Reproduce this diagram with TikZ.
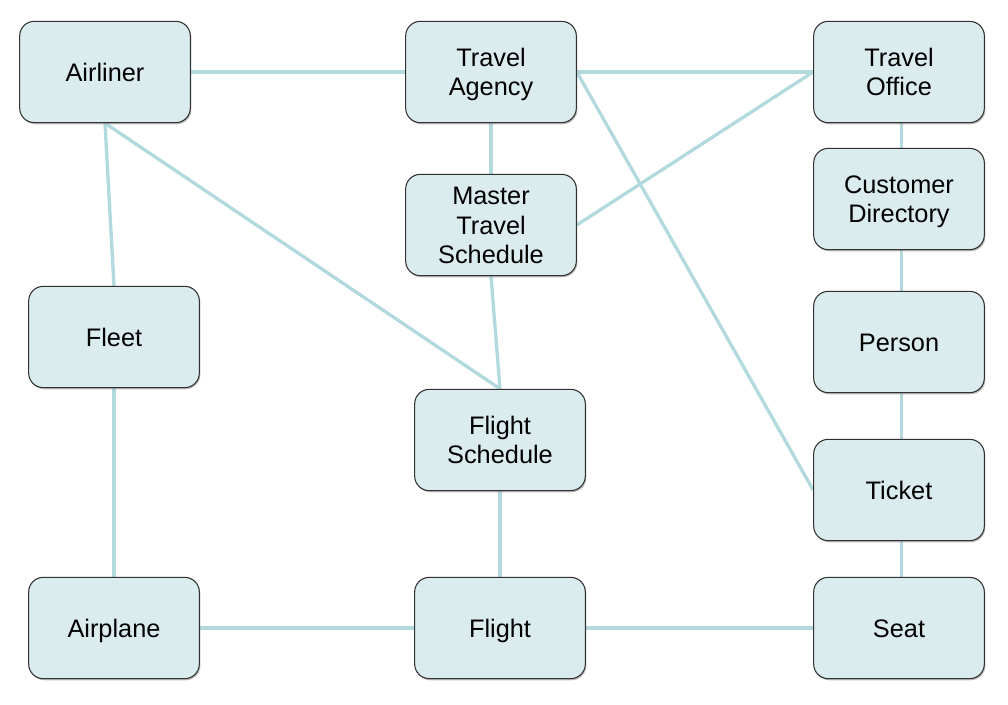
\documentclass[tikz,border=0pt]{standalone}
\usepackage{fontspec}
\setmainfont{Liberation Sans}
\usetikzlibrary{shadows}
\definecolor{boxfill}{RGB}{219,236,238}
\definecolor{linkcol}{RGB}{178,218,222}
\definecolor{boxdraw}{RGB}{50,50,50}
\pgfdeclarelayer{bg}
\pgfsetlayers{bg,main}
\newcommand\boxdepth{\rule[-5pt]{0pt}{5pt}}
\begin{document}
\begin{tikzpicture}[x=0.75pt,y=-0.75pt,
  entity/.style={draw=boxdraw, line width=0.8pt, fill=boxfill, rounded corners=11pt,
    minimum width=128pt, minimum height=76pt, align=center, inner sep=2pt,
    font=\fontsize{19}{22}\selectfont, text height=18.6pt,
    execute at end node=\boxdepth,
    drop shadow={shadow xshift=0.8pt, shadow yshift=-1.2pt, fill=black!45, opacity=0.6}},
  twolines/.style={text height=40.6pt},
  threelines/.style={text height=62.6pt},
  link/.style={draw=linkcol, line width=2.5pt}]
\useasboundingbox (0,0) rectangle (1008,705);
\node[entity] (airliner) at (105,72) {Airliner};
\node[entity,twolines] (agency) at (491,72) {Travel\\Agency};
\node[entity,twolines] (office) at (899,72) {Travel\\Office};
\node[entity,threelines] (master) at (491,225) {Master\\Travel\\Schedule};
\node[entity,twolines] (custdir) at (899,199) {Customer\\Directory};
\node[entity] (fleet) at (114,337) {Fleet};
\node[entity] (person) at (899,342) {Person};
\node[entity,twolines] (fsched) at (500,440) {Flight\\Schedule};
\node[entity] (ticket) at (899,490) {Ticket};
\node[entity] (airplane) at (114,628) {Airplane};
\node[entity] (flight) at (500,628) {Flight};
\node[entity] (seat) at (899,628) {Seat};
\begin{pgfonlayer}{bg}
\draw[link] (airliner.east) -- (agency.west);
\draw[link] (agency.east) -- (office.west);
\draw[link] (agency.south) -- (master.north);
\draw[link] (master.east) -- (office.west);
\draw[link] (agency.east) -- (ticket.west);
\draw[link] (airliner.south) -- (fleet.north);
\draw[link] (airliner.south) -- (fsched.north);
\draw[link] (master.south) -- (fsched.north);
\draw[link] ([xshift=2pt]office.south) -- ([xshift=2pt]custdir.north);
\draw[link] ([xshift=2pt]custdir.south) -- ([xshift=2pt]person.north);
\draw[link] ([xshift=2pt]person.south) -- ([xshift=2pt]ticket.north);
\draw[link] ([xshift=2pt]ticket.south) -- ([xshift=2pt]seat.north);
\draw[link] (fleet.south) -- (airplane.north);
\draw[link] (fsched.south) -- (flight.north);
\draw[link] (airplane.east) -- (flight.west);
\draw[link] (flight.east) -- (seat.west);
\end{pgfonlayer}
\end{tikzpicture}
\end{document}
